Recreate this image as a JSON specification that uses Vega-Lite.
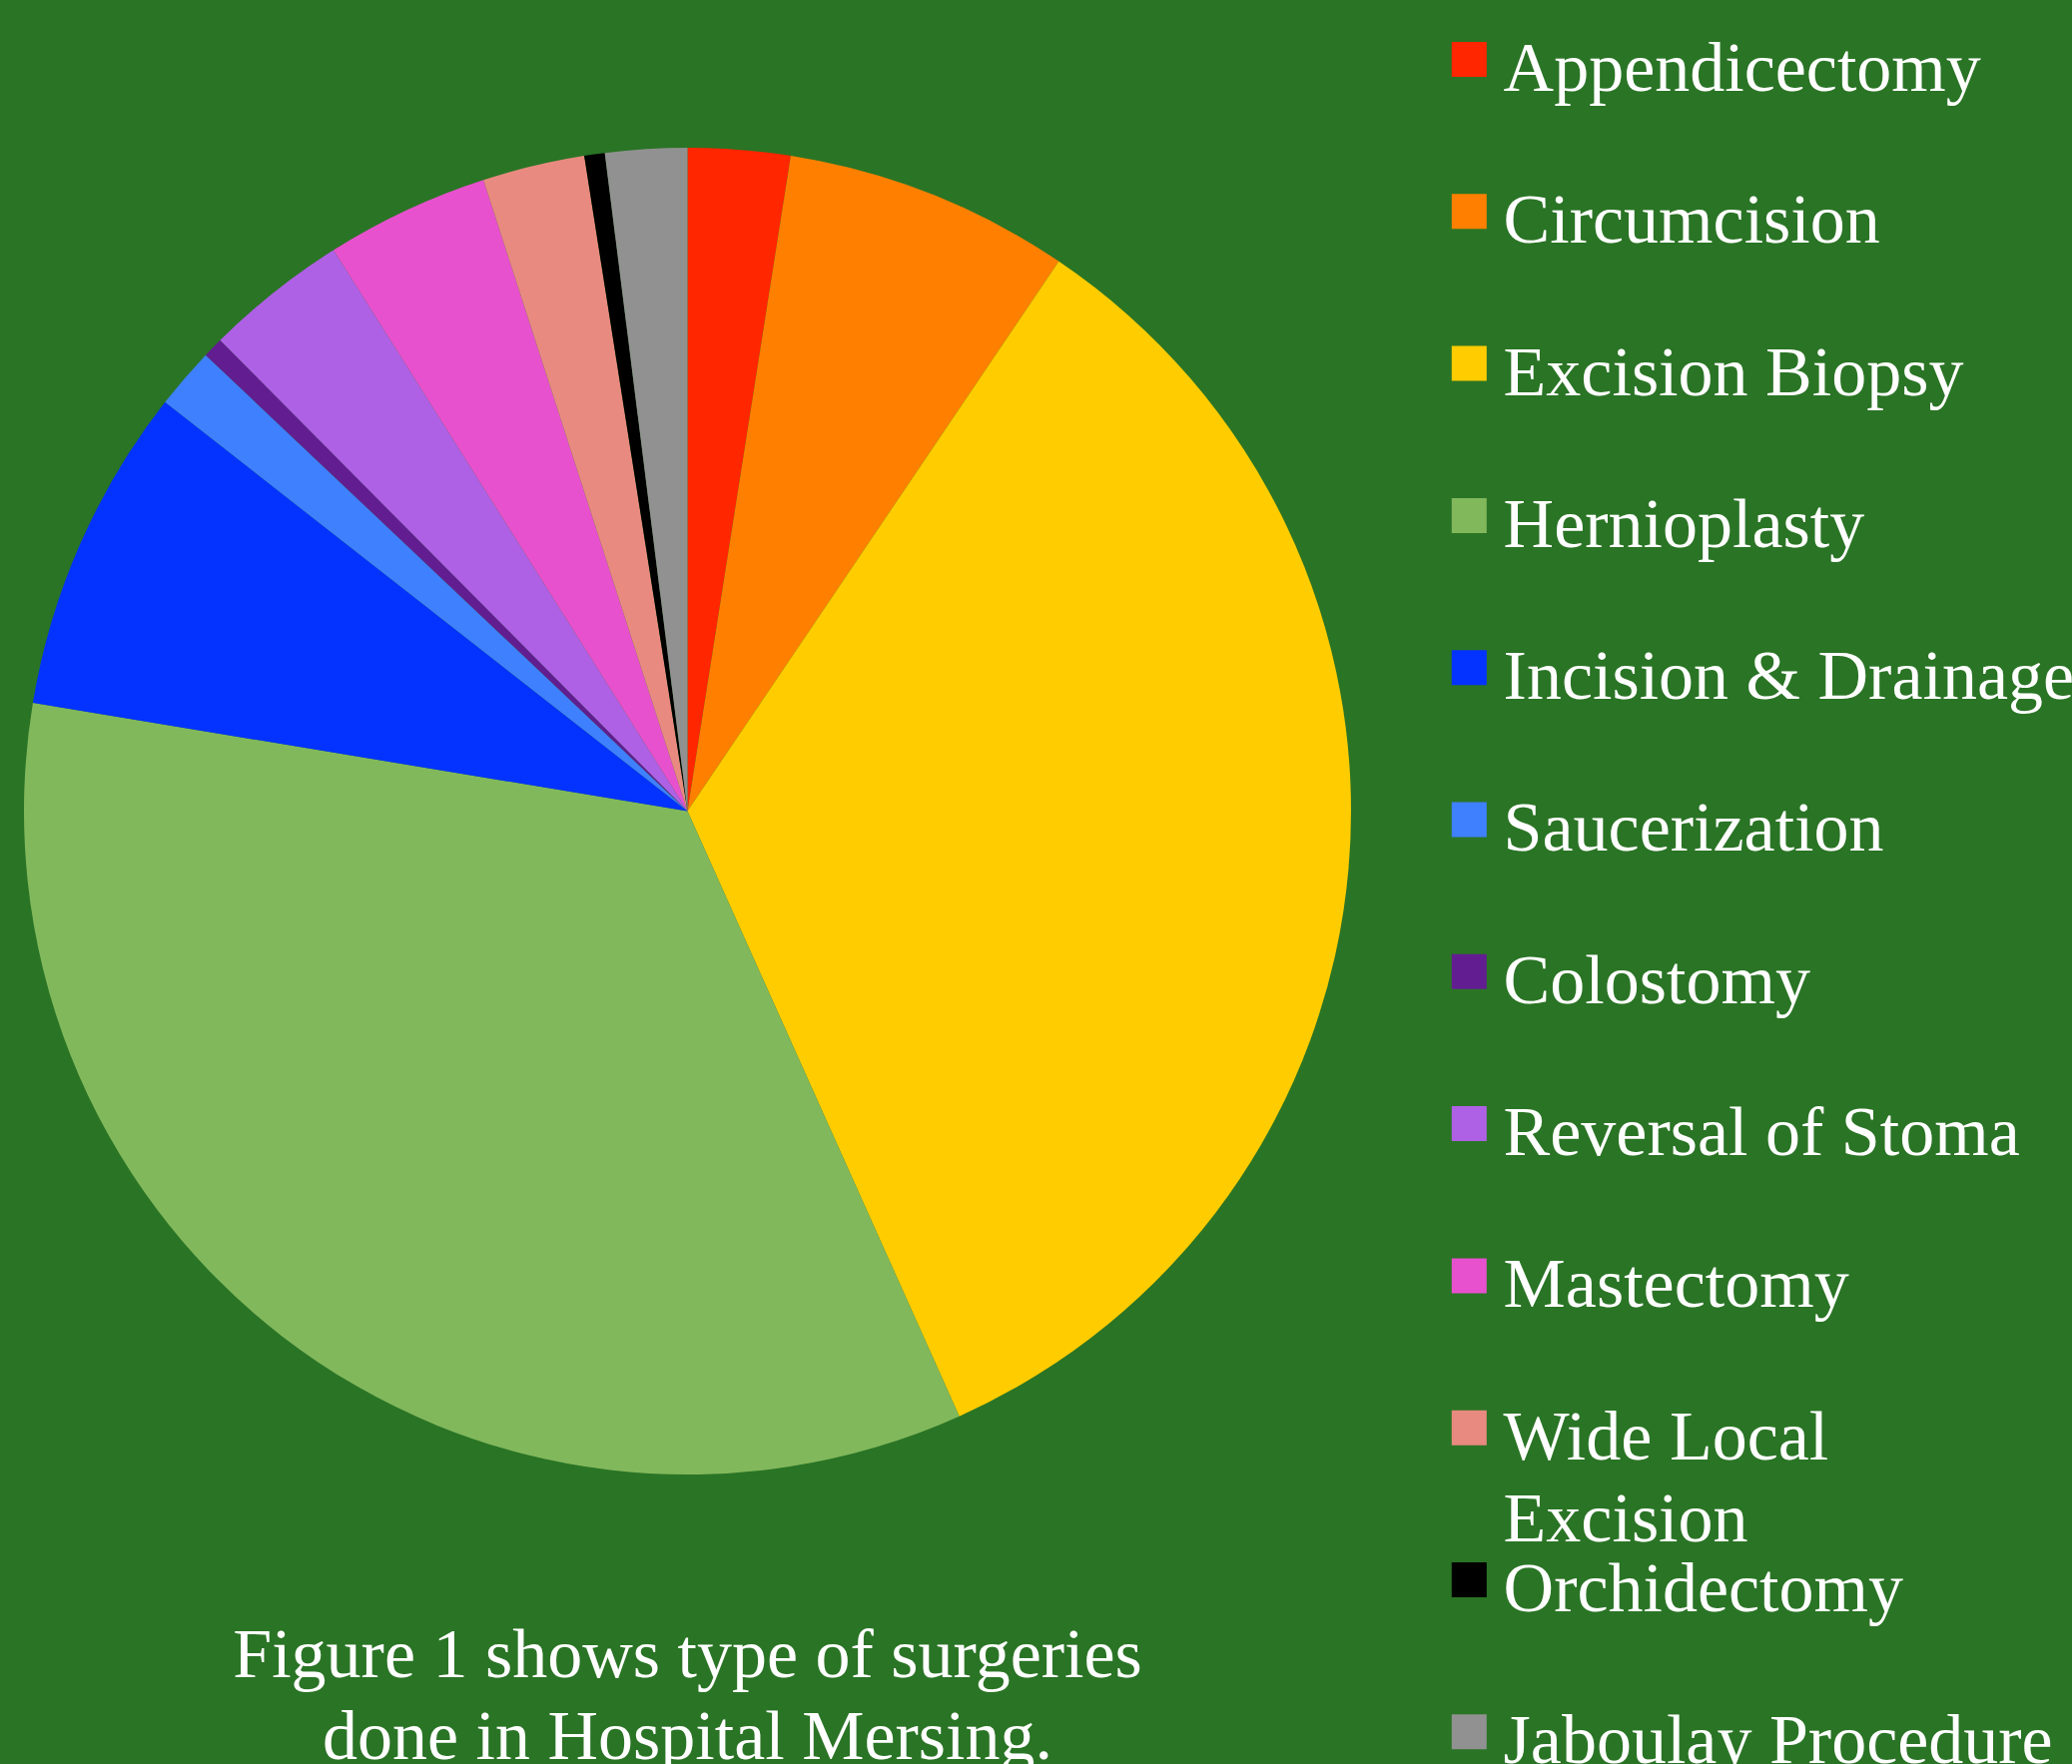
{
  "$schema": "https://vega.github.io/schema/vega-lite/v6.json",
  "background": "#2a7425",
  "padding": 0,
  "spacing": 76.8,
  "config": {"view": {"stroke": null}},
  "data": {"values": [
    {"i": 1, "surgery": "Appendicectomy", "label": "Appendicectomy", "count": 5},
    {"i": 2, "surgery": "Circumcision", "label": "Circumcision", "count": 14},
    {"i": 3, "surgery": "Excision Biopsy", "label": "Excision Biopsy", "count": 68},
    {"i": 4, "surgery": "Hernioplasty", "label": "Hernioplasty", "count": 69},
    {"i": 5, "surgery": "Incision & Drainage", "label": "Incision & Drainage", "count": 16},
    {"i": 6, "surgery": "Saucerization", "label": "Saucerization", "count": 3},
    {"i": 7, "surgery": "Colostomy", "label": "Colostomy", "count": 1},
    {"i": 8, "surgery": "Reversal of Stoma", "label": "Reversal of Stoma", "count": 7},
    {"i": 9, "surgery": "Mastectomy", "label": "Mastectomy", "count": 8},
    {"i": 10, "surgery": "Wide Local Excision", "label": "Wide Local\nExcision", "count": 5},
    {"i": 11, "surgery": "Orchidectomy", "label": "Orchidectomy", "count": 1},
    {"i": 12, "surgery": "Jaboulay Procedure", "label": "Jaboulay Procedure", "count": 4}
  ]},
  "hconcat": [
    {
      "width": 1377,
      "height": 1625,
      "title": {
        "text": ["Figure 1 shows type of surgeries", "done in Hospital Mersing."],
        "orient": "bottom",
        "anchor": "middle",
        "font": "Liberation Serif",
        "fontSize": 70,
        "fontWeight": "normal",
        "lineHeight": 82,
        "color": "#ffffff",
        "offset": 0
      },
      "mark": {"type": "arc", "radius": 664.5},
      "encoding": {
        "theta": {"field": "count", "type": "quantitative", "stack": true},
        "order": {"field": "i", "type": "quantitative"},
        "color": {
          "field": "surgery",
          "type": "nominal",
          "legend": null,
          "scale": {
            "domain": ["Appendicectomy", "Circumcision", "Excision Biopsy", "Hernioplasty", "Incision & Drainage", "Saucerization", "Colostomy", "Reversal of Stoma", "Mastectomy", "Wide Local Excision", "Orchidectomy", "Jaboulay Procedure"],
            "range": ["#ff2600", "#ff8000", "#ffcc00", "#82b85c", "#0433ff", "#3f80ff", "#621e91", "#af61e6", "#e851ce", "#e98a80", "#000000", "#919191"]
          }
        }
      }
    },
    {
      "width": 35,
      "height": 1767,
      "encoding": {
        "y": {
          "field": "surgery",
          "type": "nominal",
          "sort": {"field": "i"},
          "axis": null,
          "scale": {"type": "point", "padding": 0.301}
        }
      },
      "layer": [
        {
          "mark": {"type": "square", "size": 1225, "filled": true, "opacity": 1, "yOffset": 13.65},
          "encoding": {
            "color": {
              "field": "surgery",
              "type": "nominal",
              "legend": null,
              "scale": {
                "domain": ["Appendicectomy", "Circumcision", "Excision Biopsy", "Hernioplasty", "Incision & Drainage", "Saucerization", "Colostomy", "Reversal of Stoma", "Mastectomy", "Wide Local Excision", "Orchidectomy", "Jaboulay Procedure"],
                "range": ["#ff2600", "#ff8000", "#ffcc00", "#82b85c", "#0433ff", "#3f80ff", "#621e91", "#af61e6", "#e851ce", "#e98a80", "#000000", "#919191"]
              }
            }
          }
        },
        {
          "mark": {
            "type": "text",
            "align": "left",
            "baseline": "alphabetic",
            "dx": 34.3,
            "dy": 31.5,
            "yOffset": 13.65,
            "font": "Liberation Serif",
            "fontSize": 70,
            "lineHeight": 82,
            "lineBreak": "\n",
            "color": "#ffffff"
          },
          "encoding": {
            "text": {"field": "label", "type": "nominal"}
          }
        }
      ]
    }
  ]
}
